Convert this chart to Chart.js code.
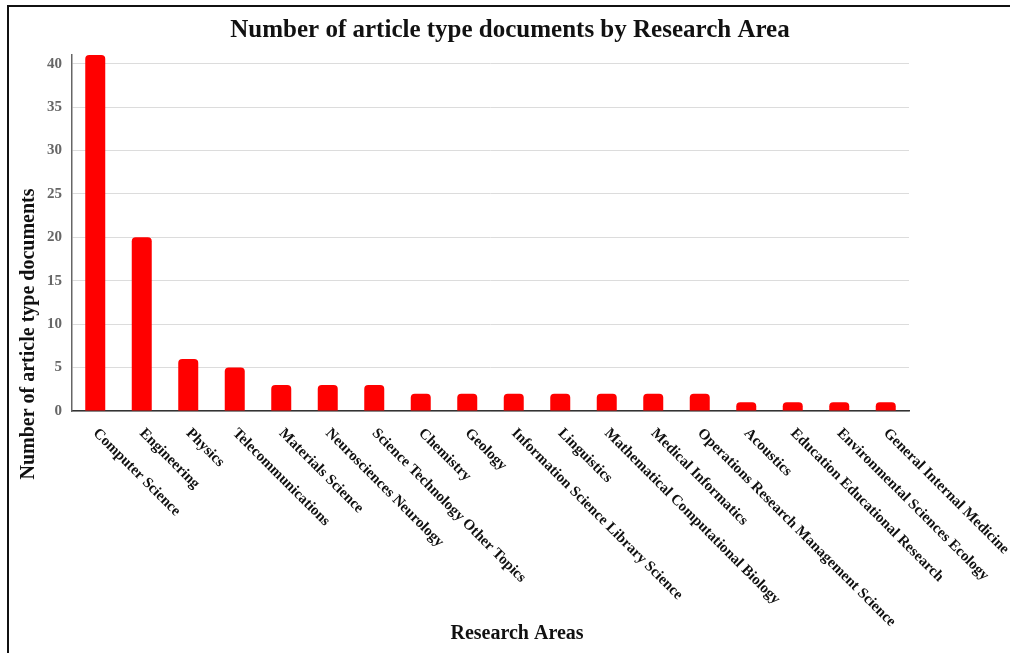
<!DOCTYPE html>
<html>
<head>
<meta charset="utf-8">
<script src="https://cdn.jsdelivr.net/npm/chart.js@4"></script>
<style>
  html, body { margin: 0; padding: 0; background: #fff; }
  #wrap { position: relative; width: 1010px; height: 653px; overflow: hidden; }
  #frame { position: absolute; left: 7px; top: 5px; width: 1010px; height: 700px;
           border-left: 2px solid #111; border-top: 2px solid #111; pointer-events: none; }
  canvas { position: absolute; left: 0; top: 0; }
</style>
</head>
<body>
<div id="wrap">
  <canvas id="research-areas-bar-chart" width="1010" height="653"></canvas>
  <div id="frame"></div>
</div>
<script>
// data
var areas = ["Computer Science", "Engineering", "Physics", "Telecommunications",
  "Materials Science", "Neurosciences Neurology", "Science Technology Other Topics",
  "Chemistry", "Geology", "Information Science Library Science", "Linguistics",
  "Mathematical Computational Biology", "Medical Informatics",
  "Operations Research Management Science", "Acoustics",
  "Education Educational Research", "Environmental Sciences Ecology",
  "General Internal Medicine"];
var documents = [41, 20, 6, 5, 3, 3, 3, 2, 2, 2, 2, 2, 2, 2, 1, 1, 1, 1];
var yTicks = [0, 5, 10, 15, 20, 25, 30, 35, 40];

var serif = "'Liberation Serif', 'Times New Roman', serif";

// labels go down to the right, so they are drawn here with the x scale
var labelsPlugin = {
  id: 'slantLabels',
  afterDraw: function (chart) {
    var ctx = chart.ctx;
    var xs = chart.scales.x;
    ctx.save();
    ctx.fillStyle = '#111';
    ctx.font = 'bold 15px ' + serif;
    ctx.textAlign = 'left';
    ctx.textBaseline = 'middle';
    areas.forEach(function (a, i) {
      var x = xs.getPixelForValue(i);
      ctx.save();
      ctx.translate(x, 431);
      ctx.rotate(Math.PI / 4);
      ctx.fillText(a, 0, 0);
      ctx.restore();
    });
    // chart title and axis titles
    ctx.textAlign = 'center';
    ctx.font = 'bold 25px ' + serif;
    ctx.fillText('Number of article type documents by Research Area', 510, 31);
    ctx.font = 'bold 20px ' + serif;
    ctx.fillText('Research Areas', 517, 634);
    ctx.save();
    ctx.translate(29, 334);
    ctx.rotate(-Math.PI / 2);
    ctx.fillText('Number of article type documents', 0, 0);
    ctx.restore();
    ctx.restore();
  }
};

new Chart(document.getElementById("research-areas-bar-chart"), {
  type: 'bar',
  data: {
    labels: areas,
    datasets: [
      {
        label: "Documents",
        backgroundColor: "#ff0000",
        borderRadius: { topLeft: 4, topRight: 4 },
        borderSkipped: 'bottom',
        barPercentage: 0.86,
        categoryPercentage: 0.5,
        data: documents
      }
    ]
  },
  plugins: [labelsPlugin],
  options: {
    responsive: false,
    animation: false,
    layout: { padding: { left: 0, right: 101, top: 55, bottom: 0 } },
    plugins: {
      legend: { display: false },
      tooltip: { enabled: false }
    },
    scales: {
      x: {
        grid: { display: false, drawTicks: false },
        border: { color: '#333', width: 1.5 },
        ticks: { display: false },
        afterFit: function (scale) { scale.height = 242; }
      },
      y: {
        min: 0,
        max: 41,
        afterBuildTicks: function (scale) {
          scale.ticks = yTicks.map(function (v) { return { value: v }; });
        },
        grid: { color: '#dcdcdc', drawTicks: false },
        border: { color: '#666', width: 1.5 },
        ticks: {
          color: '#666',
          padding: 10,
          font: { family: serif, size: 15, weight: 'bold' }
        },
        afterFit: function (scale) { scale.width = 72; }
      }
    }
  }
});
</script>
</body>
</html>
